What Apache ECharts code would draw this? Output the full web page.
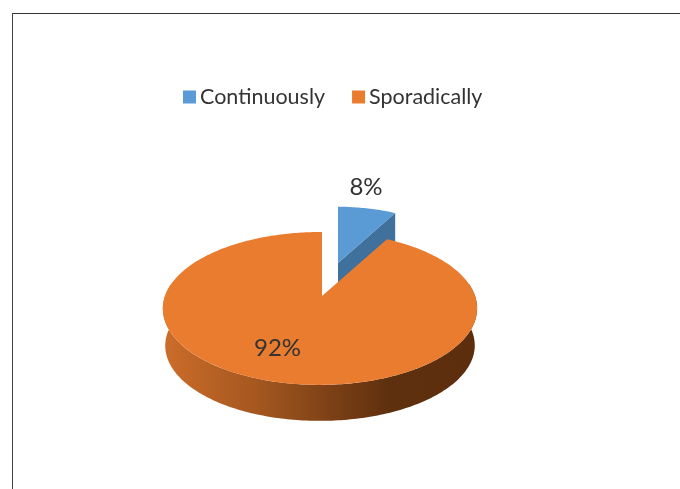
<!DOCTYPE html>
<html>
<head>
<meta charset="utf-8">
<style>html,body{margin:0;padding:0;background:#fff}#c{width:680px;height:489px}</style>
<script src="https://cdn.jsdelivr.net/npm/echarts@6/dist/echarts.min.js"></script>
</head>
<body>
<div id="c"></div>
<script>
const categories = ['Continuously', 'Sporadically'];
const values = [8, 92];
const labels = ['8%', '92%'];

const colors = ['#5b9bd5', '#ea7c30'];
const FONT = 'Lato, "Open Sans", sans-serif';
const TEXT = '#333333';

// perspective projection of the pie plane
const K = 0.163, M = 0.0127, RX = 155, RY = 74.4;
const layout = [
  { ax: 338, ay: 263, scale: 0.88, depth: 30, depthScale: 1, labelX: 366, labelY: 187.5 },
  { ax: 322, ay: 296, scale: 1, depth: 37.3, depthScale: 0.985, labelX: 277.5, labelY: 348.5 }
];
const total = values.reduce((a, b) => a + b, 0);

function rim(l, deg, lower) {
  const t = deg * Math.PI / 180, X = Math.sin(t), Y = Math.cos(t), w = 1 + K * Y + M * X;
  const f = l.scale * (lower ? l.depthScale : 1);
  return [l.ax + f * RX * X / w, l.ay - f * RY * Y / w + (lower ? l.depth : 0)];
}
function arc(l, a0, a1, lower) {
  const pts = [], n = Math.max(2, Math.ceil(Math.abs(a1 - a0)));
  for (let i = 0; i <= n; i++) pts.push(rim(l, a0 + (a1 - a0) * i / n, lower));
  return pts;
}

function renderSlice(idx) {
  return function (params, api) {
    const l = layout[idx], v = api.value(0);
    const before = values.slice(0, idx).reduce((a, b) => a + b, 0);
    const a0 = before / total * 360, a1 = a0 + v / total * 360;
    const apex = [l.ax, l.ay];
    const children = [];
    if (idx === 0) {
      const c = rim(l, a1, false);
      const d = rim(l, a1, true);
      children.push({
        type: 'polygon',
        shape: { points: [apex, c, d, [l.ax, l.ay + l.depth]] },
        style: { fill: '#40709c' }
      });
    } else {
      const from = Math.max(a0, 80), to = Math.min(a1, 280);
      children.push({
        type: 'polygon',
        shape: { points: arc(l, from, to, false).concat(arc(l, to, from, true)) },
        style: {
          fill: {
            type: 'linear', x: 165, y: 0, x2: 475, y2: 0, global: true,
            colorStops: [
              { offset: 0, color: '#cb6c2a' },
              { offset: 0.3, color: '#a4571f' },
              { offset: 0.55, color: '#7a3f15' },
              { offset: 0.72, color: '#5f300e' },
              { offset: 1, color: '#5c2e0d' }
            ]
          }
        }
      });
    }
    children.push({
      type: 'polygon',
      shape: { points: [apex].concat(arc(l, a0, a1, false)) },
      style: { fill: colors[idx] }
    });
    children.push({
      type: 'text',
      z2: 10,
      style: {
        x: l.labelX, y: l.labelY, text: labels[idx], fill: TEXT,
        font: '24px ' + FONT, align: 'center', verticalAlign: 'middle'
      }
    });
    return { type: 'group', children: children };
  };
}

const chart = echarts.init(document.getElementById('c'), null, { renderer: 'canvas' });
chart.setOption({
  animation: false,
  backgroundColor: '#ffffff',
  legend: {
    data: categories,
    left: 183 - 5, top: 86 - 5,
    itemWidth: 13, itemHeight: 13, itemGap: 27,
    icon: 'rect',
    textStyle: { fontFamily: 'Lato, "Open Sans", sans-serif', fontSize: 21.5, color: TEXT, padding: [0, 0, 0, -1] }
  },
  graphic: [
    { type: 'rect', shape: { x: 12, y: 13, width: 668, height: 1 }, style: { fill: '#333333' } },
    { type: 'rect', shape: { x: 12, y: 13, width: 1, height: 476 }, style: { fill: '#444444' } }
  ],
  series: categories.map((name, i) => ({
    type: 'custom',
    name: name,
    coordinateSystem: 'none',
    itemStyle: { color: colors[i] },
    silent: true,
    z: i + 2,
    data: [[values[i]]],
    renderItem: renderSlice(i)
  }))
});
</script>
</body>
</html>
